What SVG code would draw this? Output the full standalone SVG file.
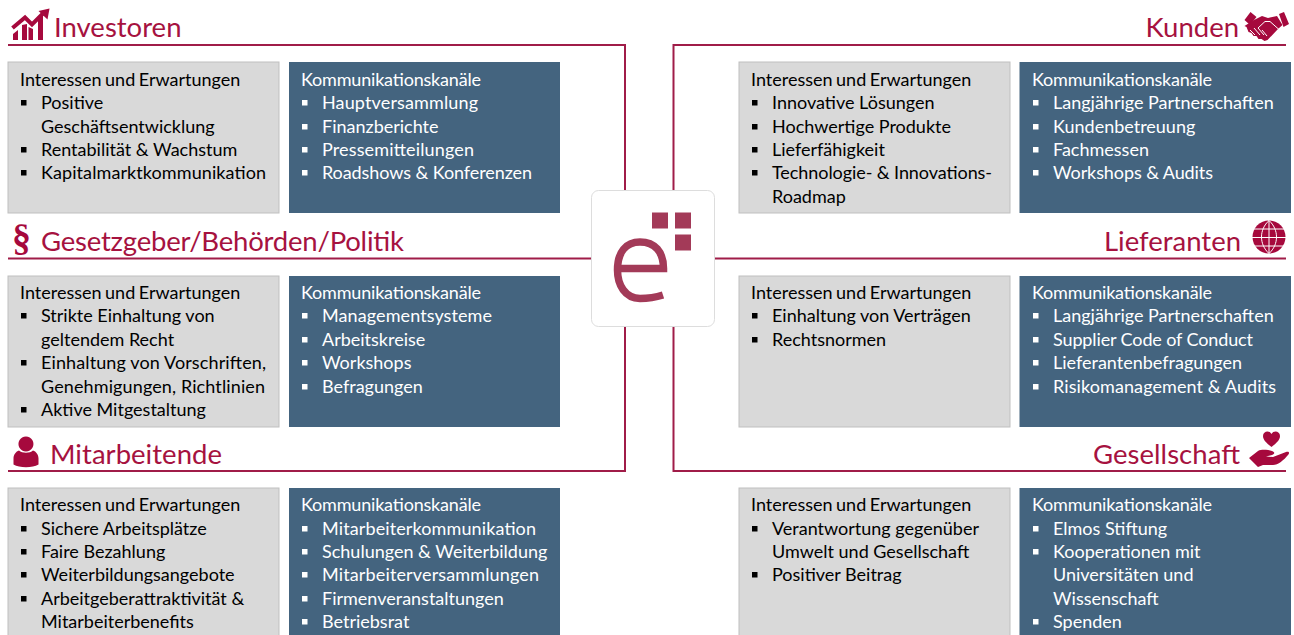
<svg xmlns="http://www.w3.org/2000/svg" width="1294" height="635" viewBox="0 0 1294 635">
<style>
text{font-family:"Lato","Open Sans","Liberation Sans",sans-serif}
.h{font-size:27.500px;fill:#A6123F}
.t{font-size:18px;fill:#000}
.w{font-size:18px;fill:#fff}
.ie{word-spacing:-1.100px}
.g{fill:#D9D9D9;stroke:#BFBFBF;stroke-width:1}
.b{fill:#44647F}
.c{fill:none;stroke:#A01C48;stroke-width:2}
.i{fill:#A6093D}
.bk{fill:#000}.bw{fill:#fff}
.bk,.bw{width:5.500px;height:5.500px}
</style>
<rect width="1294" height="635" fill="#fff"/>
<g id="connectors">
<path class="c" d="M8 45H625V190M625 327V471H8M8 258.500H591"/>
<path class="c" d="M1286 45H673.500V190M673.500 327V471H1286M1286 258.500H715"/>
</g>
<g id="investoren">
<path class="i" d="M13 40v-6l5-4v10zM22 40V25l5-1v16zM28.500 40V27l4.500 2v11zM38 40V20l5-5v25z"/>
<path d="M12.500 28L25 17.500 32 24.500 44 12.500" fill="none" stroke="#A6093D" stroke-width="4"/>
<path class="i" d="M49.500 8.500L38.500 11 47.500 19.500z"/>
<text class="h" x="54" y="37">Investoren</text>
<rect class="g" x="8" y="62" width="271" height="151"/>
<text class="t ie" x="20" y="86">Interessen und Erwartungen</text>
<rect class="bk" x="21" y="100" width="5" height="5"/><text class="t" x="41" y="109">Positive</text>
<text class="t" x="41" y="133">Geschäftsentwicklung</text>
<rect class="bk" x="21" y="147" width="5" height="5"/><text class="t" x="41" y="156">Rentabilität &amp; Wachstum</text>
<rect class="bk" x="21" y="170" width="5" height="5"/><text class="t" x="41" y="179" textLength="225">Kapitalmarktkommunikation</text>
<rect class="b" x="289" y="62" width="271" height="151"/>
<text class="w" x="301" y="86" textLength="180">Kommunikationskanäle</text>
<rect class="bw" x="302" y="100" width="5" height="5"/><text class="w" x="322" y="109" textLength="156">Hauptversammlung</text>
<rect class="bw" x="302" y="124" width="5" height="5"/><text class="w" x="322" y="133">Finanzberichte</text>
<rect class="bw" x="302" y="147" width="5" height="5"/><text class="w" x="322" y="156" textLength="152">Pressemitteilungen</text>
<rect class="bw" x="302" y="170" width="5" height="5"/><text class="w" x="322" y="179" textLength="210">Roadshows &amp; Konferenzen</text>
</g>
<g id="gesetzgeber">
<text class="i" x="12" y="250" style="font-family:'Liberation Serif',serif;font-size:38px;font-weight:bold">§</text>
<text class="h" x="41" y="251" textLength="363">Gesetzgeber/Behörden/Politik</text>
<rect class="g" x="8" y="276" width="271" height="151"/>
<text class="t ie" x="20" y="299">Interessen und Erwartungen</text>
<rect class="bk" x="21" y="313" width="5" height="5"/><text class="t" x="41" y="322">Strikte Einhaltung von</text>
<text class="t" x="41" y="346">geltendem Recht</text>
<rect class="bk" x="21" y="360" width="5" height="5"/><text class="t" x="41" y="369" textLength="225">Einhaltung von Vorschriften,</text>
<text class="t" x="41" y="393" textLength="224">Genehmigungen, Richtlinien</text>
<rect class="bk" x="21" y="407" width="5" height="5"/><text class="t" x="41" y="416">Aktive Mitgestaltung</text>
<rect class="b" x="289" y="276" width="271" height="151"/>
<text class="w" x="301" y="299" textLength="180">Kommunikationskanäle</text>
<rect class="bw" x="302" y="313" width="5" height="5"/><text class="w" x="322" y="322" textLength="170">Managementsysteme</text>
<rect class="bw" x="302" y="337" width="5" height="5"/><text class="w" x="322" y="346">Arbeitskreise</text>
<rect class="bw" x="302" y="360" width="5" height="5"/><text class="w" x="322" y="369">Workshops</text>
<rect class="bw" x="302" y="384" width="5" height="5"/><text class="w" x="322" y="393">Befragungen</text>
</g>
<g id="mitarbeitende">
<path class="i" d="M26 436.500a7.500 7.500 0 1 1-.1 0zM19 450.500c3 3 11 3 14 0 3 1 5.500 4 5.500 8v6c-6 3.500-19 3.500-25 0v-6c0-4 2.500-7 5.500-8z"/>
<text class="h" x="50" y="464" textLength="172">Mitarbeitende</text>
<rect class="g" x="8" y="488" width="271" height="160"/>
<text class="t ie" x="20" y="511">Interessen und Erwartungen</text>
<rect class="bk" x="21" y="526" width="5" height="5"/><text class="t" x="41" y="535">Sichere Arbeitsplätze</text>
<rect class="bk" x="21" y="549" width="5" height="5"/><text class="t" x="41" y="558">Faire Bezahlung</text>
<rect class="bk" x="21" y="572" width="5" height="5"/><text class="t" x="41" y="581">Weiterbildungsangebote</text>
<rect class="bk" x="21" y="596" width="5" height="5"/><text class="t" x="41" y="605">Arbeitgeberattraktivität &amp;</text>
<text class="t" x="41" y="628">Mitarbeiterbenefits</text>
<rect class="b" x="289" y="488" width="271" height="160"/>
<text class="w" x="301" y="511" textLength="180">Kommunikationskanäle</text>
<rect class="bw" x="302" y="526" width="5" height="5"/><text class="w" x="322" y="535" textLength="214">Mitarbeiterkommunikation</text>
<rect class="bw" x="302" y="549" width="5" height="5"/><text class="w" x="322" y="558">Schulungen &amp; Weiterbildung</text>
<rect class="bw" x="302" y="572" width="5" height="5"/><text class="w" x="322" y="581" textLength="217">Mitarbeiterversammlungen</text>
<rect class="bw" x="302" y="596" width="5" height="5"/><text class="w" x="322" y="605">Firmenveranstaltungen</text>
<rect class="bw" x="302" y="619" width="5" height="5"/><text class="w" x="322" y="628">Betriebsrat</text>
</g>
<g id="kunden">
<text class="h" x="1239" y="37" text-anchor="end">Kunden</text>
<path class="i" d="M1244.500 20l6-8 6 5-6.500 8zM1279 14l5-2 5 12-5.500 3z"/>
<path class="i" d="M1254 20l8-4 6 2 9-2 5.500 9-4.500 4-10.500 11-3 1-3-2-3 0-2-3-3 0-2-3-3-1-2-5-2-1z"/>
<path d="M1258 28l7-6.500h5l9 8M1250 30l5 5M1254 28l6 7M1258 28l6 7M1262 30l5 6" fill="none" stroke="#fff" stroke-width="1"/>
<rect class="g" x="739" y="62" width="271" height="151"/>
<text class="t ie" x="751" y="86">Interessen und Erwartungen</text>
<rect class="bk" x="752" y="100" width="5" height="5"/><text class="t" x="772" y="109">Innovative Lösungen</text>
<rect class="bk" x="752" y="124" width="5" height="5"/><text class="t" x="772" y="133">Hochwertige Produkte</text>
<rect class="bk" x="752" y="147" width="5" height="5"/><text class="t" x="772" y="156">Lieferfähigkeit</text>
<rect class="bk" x="752" y="170" width="5" height="5"/><text class="t" x="772" y="179" textLength="220">Technologie- &amp; Innovations-</text>
<text class="t" x="772" y="203">Roadmap</text>
<rect class="b" x="1019.500" y="62" width="271.500" height="151"/>
<text class="w" x="1032" y="86" textLength="180">Kommunikationskanäle</text>
<rect class="bw" x="1033" y="100" width="5" height="5"/><text class="w" x="1053" y="109">Langjährige Partnerschaften</text>
<rect class="bw" x="1033" y="124" width="5" height="5"/><text class="w" x="1053" y="133">Kundenbetreuung</text>
<rect class="bw" x="1033" y="147" width="5" height="5"/><text class="w" x="1053" y="156">Fachmessen</text>
<rect class="bw" x="1033" y="170" width="5" height="5"/><text class="w" x="1053" y="179" textLength="160">Workshops &amp; Audits</text>
</g>
<g id="lieferanten">
<text class="h" x="1241" y="251" text-anchor="end">Lieferanten</text>
<circle class="i" cx="1269" cy="237" r="16.500"/>
<path d="M1254 229h30M1252 237.500h34M1254 246h30M1269 220.500v33M1269 220.500c-10 9-10 24 0 33M1269 220.500c10 9 10 24 0 33" fill="none" stroke="#fff" stroke-width="1"/>
<rect class="g" x="739" y="276" width="271" height="151"/>
<text class="t ie" x="751" y="299">Interessen und Erwartungen</text>
<rect class="bk" x="752" y="313" width="5" height="5"/><text class="t" x="772" y="322">Einhaltung von Verträgen</text>
<rect class="bk" x="752" y="337" width="5" height="5"/><text class="t" x="772" y="346">Rechtsnormen</text>
<rect class="b" x="1019.500" y="276" width="271.500" height="151"/>
<text class="w" x="1032" y="299" textLength="180">Kommunikationskanäle</text>
<rect class="bw" x="1033" y="313" width="5" height="5"/><text class="w" x="1053" y="322">Langjährige Partnerschaften</text>
<rect class="bw" x="1033" y="337" width="5" height="5"/><text class="w" x="1053" y="346" textLength="200">Supplier Code of Conduct</text>
<rect class="bw" x="1033" y="360" width="5" height="5"/><text class="w" x="1053" y="369">Lieferantenbefragungen</text>
<rect class="bw" x="1033" y="384" width="5" height="5"/><text class="w" x="1053" y="393" textLength="223">Risikomanagement &amp; Audits</text>
</g>
<g id="gesellschaft">
<text class="h" x="1240" y="464" text-anchor="end" textLength="147">Gesellschaft</text>
<path class="i" d="M1271.500 447c-5-4-8.500-7-8.500-11 0-5 6.500-6 8.500-2 2-4 8.500-3 8.500 2 0 4-3.500 7-8.500 11z"/>
<path class="i" d="M1249 458L1258 451C1262 449 1268 450 1272 451 1275 452 1275 454 1272 455L1266 456.500 1273 457 1286 452C1289 451 1290 453 1288 455 1284 460 1278 465 1273 465L1263 465 1258 467z"/>
<rect class="g" x="739" y="488" width="271" height="160"/>
<text class="t ie" x="751" y="511">Interessen und Erwartungen</text>
<rect class="bk" x="752" y="526" width="5" height="5"/><text class="t" x="772" y="535">Verantwortung gegenüber</text>
<text class="t" x="772" y="558">Umwelt und Gesellschaft</text>
<rect class="bk" x="752" y="572" width="5" height="5"/><text class="t" x="772" y="581">Positiver Beitrag</text>
<rect class="b" x="1019.500" y="488" width="271.500" height="160"/>
<text class="w" x="1032" y="511" textLength="180">Kommunikationskanäle</text>
<rect class="bw" x="1033" y="526" width="5" height="5"/><text class="w" x="1053" y="535">Elmos Stiftung</text>
<rect class="bw" x="1033" y="549" width="5" height="5"/><text class="w" x="1053" y="558">Kooperationen mit</text>
<text class="w" x="1053" y="581">Universitäten und</text>
<text class="w" x="1053" y="605">Wissenschaft</text>
<rect class="bw" x="1033" y="619" width="5" height="5"/><text class="w" x="1053" y="628">Spenden</text>
</g>
<g id="logo">
<rect x="591.500" y="190.500" width="123" height="136" rx="7" fill="#fff" stroke="#DDD" stroke-width="1"/>
<path d="M663 295C652 298.500 644 298.500 640 298.500 625 298 617.500 285 617.500 270 617.500 252 626 242 640 242 655 242 663.500 252 663.500 268.500H617.500" fill="none" stroke="#A33A58" stroke-width="7.500"/>
<rect x="652" y="212.500" width="16" height="16" fill="#A33A58"/>
<rect x="675" y="212.500" width="16" height="16" fill="#A33A58"/>
<rect x="675" y="234.500" width="16" height="16" fill="#A33A58"/>
</g>
</svg>
